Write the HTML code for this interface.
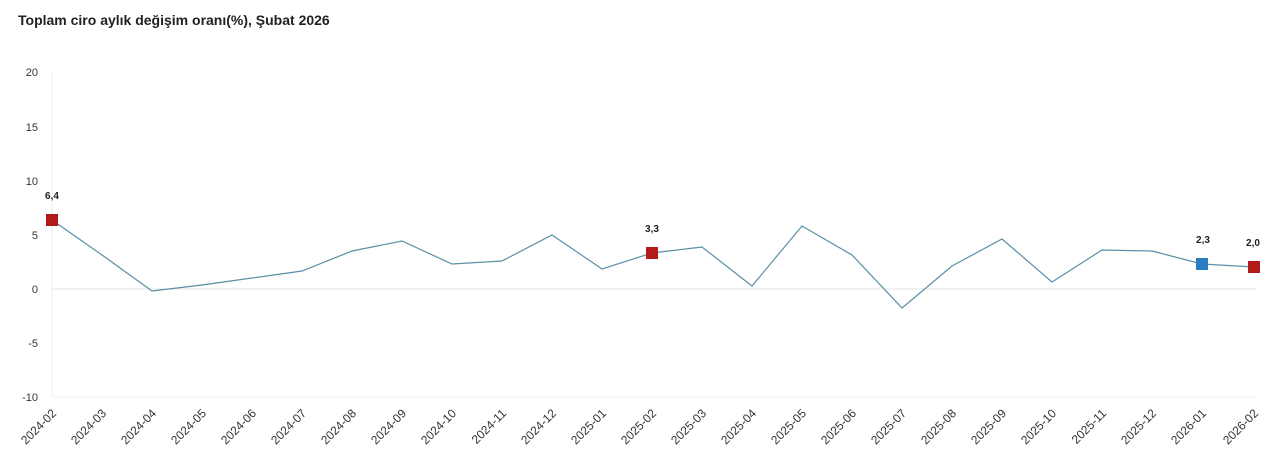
<!DOCTYPE html>
<html><head><meta charset="utf-8"><style>
body{margin:0;background:#fff;}
svg{display:block;font-family:"Liberation Sans",sans-serif;}
</style></head><body>
<svg width="1280" height="467" viewBox="0 0 1280 467">
<text x="18" y="25" font-size="14" font-weight="bold" fill="#222">Toplam ciro aylık değişim oranı(%), Şubat 2026</text>
<g font-size="11" fill="#333" text-anchor="end">
<text x="38" y="76">20</text><text x="38" y="131">15</text><text x="38" y="185">10</text>
<text x="38" y="239">5</text><text x="38" y="293">0</text><text x="38" y="347">-5</text><text x="38" y="401">-10</text>
</g>
<line x1="52" y1="72" x2="52" y2="397" stroke="#eee"/>
<line x1="52" y1="397" x2="1256" y2="397" stroke="#f0f0f0"/>
<line x1="52" y1="289" x2="1256" y2="289" stroke="#e4e4e4"/>
<polyline fill="none" stroke="#5a8fa6" stroke-width="1.2" points="
52,220 102,255 152,291 202,285 252,278 302,271 352,251 402,241 452,264 502,261 552,235 602,269 652,253 702,247 752,286 802,226 852,255 902,308 952,266 1002,239 1052,282 1102,250 1152,251 1202,264 1254,267"/>
<rect x="46" y="214" width="12" height="12" fill="#b31b1b"/>
<rect x="646" y="247" width="12" height="12" fill="#b31b1b"/>
<rect x="1196" y="258" width="12" height="12" fill="#2a7bbf"/>
<rect x="1248" y="261" width="12" height="12" fill="#b31b1b"/>
<g font-size="10" font-weight="bold" fill="#222" text-anchor="middle">
<text x="52" y="199">6,4</text><text x="652" y="232">3,3</text><text x="1203" y="243">2,3</text><text x="1253" y="246">2,0</text>
</g>
<g font-size="12" fill="#333" text-anchor="end">
<text transform="translate(57,414) rotate(-45)">2024-02</text>
<text transform="translate(107,414) rotate(-45)">2024-03</text>
<text transform="translate(157,414) rotate(-45)">2024-04</text>
<text transform="translate(207,414) rotate(-45)">2024-05</text>
<text transform="translate(257,414) rotate(-45)">2024-06</text>
<text transform="translate(307,414) rotate(-45)">2024-07</text>
<text transform="translate(357,414) rotate(-45)">2024-08</text>
<text transform="translate(407,414) rotate(-45)">2024-09</text>
<text transform="translate(457,414) rotate(-45)">2024-10</text>
<text transform="translate(507,414) rotate(-45)">2024-11</text>
<text transform="translate(557,414) rotate(-45)">2024-12</text>
<text transform="translate(607,414) rotate(-45)">2025-01</text>
<text transform="translate(657,414) rotate(-45)">2025-02</text>
<text transform="translate(707,414) rotate(-45)">2025-03</text>
<text transform="translate(757,414) rotate(-45)">2025-04</text>
<text transform="translate(807,414) rotate(-45)">2025-05</text>
<text transform="translate(857,414) rotate(-45)">2025-06</text>
<text transform="translate(907,414) rotate(-45)">2025-07</text>
<text transform="translate(957,414) rotate(-45)">2025-08</text>
<text transform="translate(1007,414) rotate(-45)">2025-09</text>
<text transform="translate(1057,414) rotate(-45)">2025-10</text>
<text transform="translate(1107,414) rotate(-45)">2025-11</text>
<text transform="translate(1157,414) rotate(-45)">2025-12</text>
<text transform="translate(1207,414) rotate(-45)">2026-01</text>
<text transform="translate(1259,414) rotate(-45)">2026-02</text>
</g>
</svg>
</body></html>
